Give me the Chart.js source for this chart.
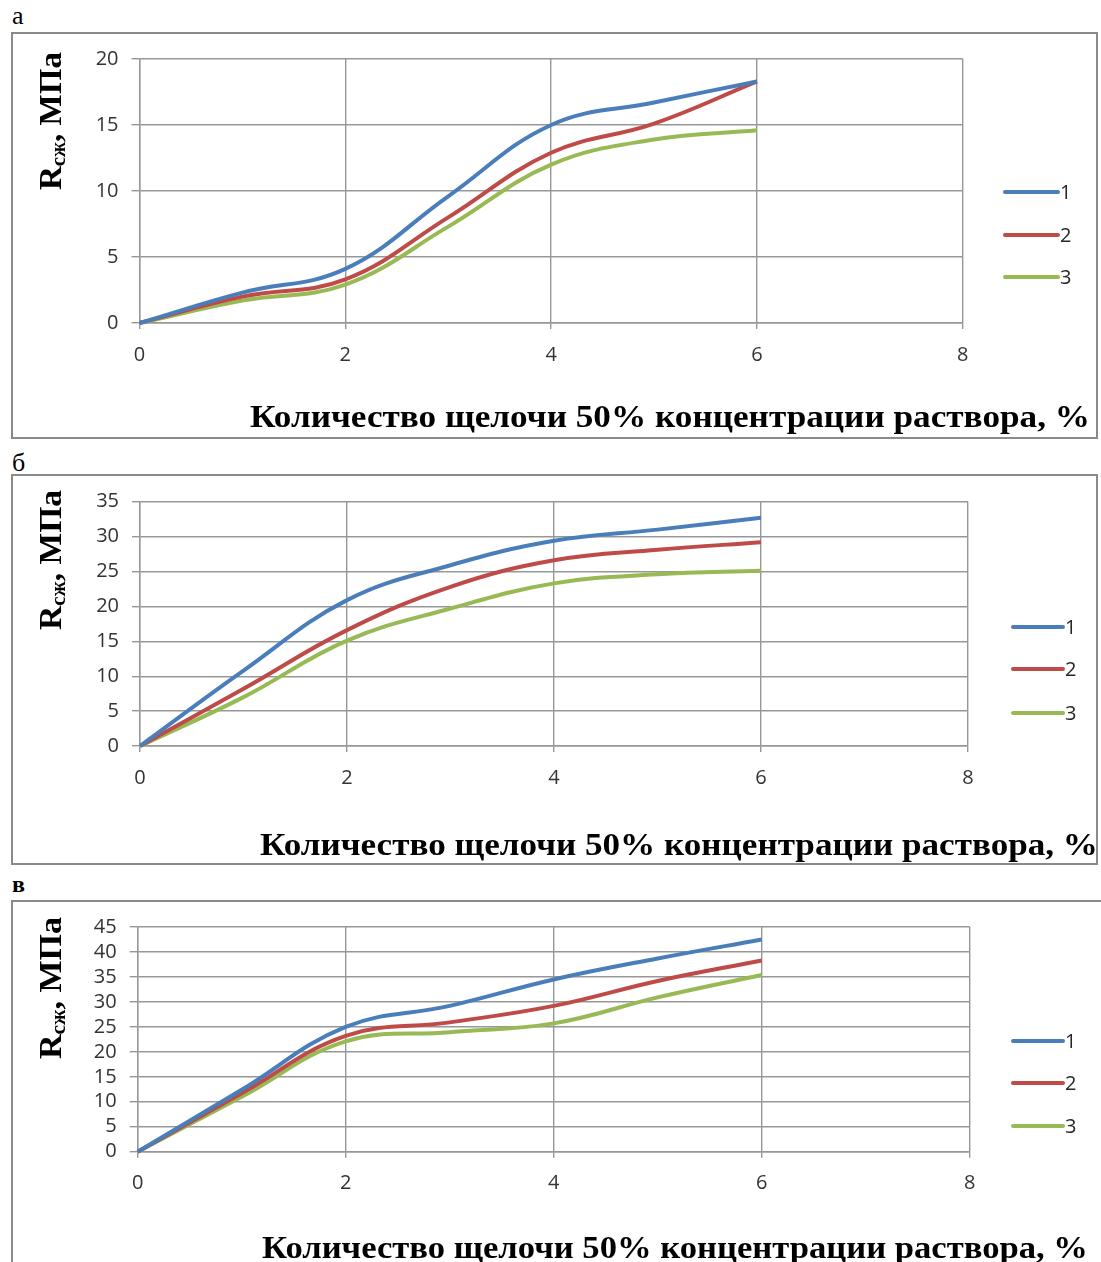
<!DOCTYPE html>
<html lang="ru">
<head>
  <meta charset="UTF-8">
  <title>Прочность при сжатии</title>
  <script src="https://cdn.jsdelivr.net/npm/chart.js"></script>
  <style>
    html, body { margin: 0; padding: 0; background: #fff; overflow: hidden; }
    body { width: 1101px; height: 1262px; position: relative; }
    .metka {
      position: absolute;
      left: 12px;
      font-family: "Liberation Serif", "Times New Roman", serif;
      font-size: 26px;
      line-height: 1;
      color: #000;
    }
    .panel {
      position: absolute;
      border: 2px solid #8a8a8a;
      box-sizing: border-box;
      background: #fff;
    }
    .panel canvas { position: absolute; left: 0; top: 0; }
  </style>
</head>
<body>
  <div class="metka" style="top:3px">а</div>
  <div class="metka" style="top:450px">б</div>
  <div class="metka" style="top:872px; font-size:24px; font-weight:bold">в</div>

  <div class="panel" id="panelA" style="left:11px; top:32px; width:1087px; height:407px">
    <canvas id="grafA" width="1083" height="403"></canvas>
  </div>
  <div class="panel" id="panelB" style="left:11px; top:474px; width:1087px; height:391px">
    <canvas id="grafB" width="1083" height="387"></canvas>
  </div>
  <div class="panel" id="panelV" style="left:11px; top:900px; width:1100px; height:390px">
    <canvas id="grafV" width="1096" height="386"></canvas>
  </div>

  <script>
    // количество щелочи, %
    const kolichestvo = [0, 1, 2, 3, 4, 5, 6];
    const serii = ['1', '2', '3'];
    const xTicks = [0, 2, 4, 6, 8];

    // а
    const rA1 = [0, 2.3, 4.1, 9.6, 15.0, 16.7, 18.3];
    const rA2 = [0, 2.0, 3.3, 8.0, 12.9, 15.1, 18.3];
    const rA3 = [0, 1.7, 2.9, 7.3, 12.0, 13.9, 14.6];
    const yTicksA = [0, 5, 10, 15, 20];

    // б
    const rB1 = [0, 10.8, 20.9, 25.9, 29.4, 31.0, 32.7];
    const rB2 = [0, 8.2, 16.6, 22.8, 26.6, 28.1, 29.2];
    const rB3 = [0, 7.0, 15.1, 19.7, 23.3, 24.6, 25.1];
    const yTicksB = [0, 5, 10, 15, 20, 25, 30, 35];

    // в
    const rV1 = [0, 12.4, 25.0, 29.2, 34.5, 38.7, 42.5];
    const rV2 = [0, 11.7, 23.2, 25.9, 29.2, 34.2, 38.3];
    const rV3 = [0, 11.0, 22.1, 23.9, 25.7, 30.9, 35.4];
    const yTicksV = [0, 5, 10, 15, 20, 25, 30, 35, 40, 45];

    const TITLE_X = 'Количество щелочи 50% концентрации раствора, %';
    const cveta = ['#4a7ebb', '#be4b48', '#98b954'];
    const setka = '#979797';

    // подписи осей и легенда рисуются поверх графика
    const podpisi = {
      id: 'podpisi',
      afterDraw(chart, args, o) {
        const ctx = chart.ctx;
        const ox = o.ox, oy = o.oy;

        // подпись оси X, по правому краю
        ctx.save();
        ctx.fillStyle = '#000';
        ctx.font = 'bold 31px "Liberation Serif"';
        ctx.textBaseline = 'alphabetic';
        const w = ctx.measureText(TITLE_X).width;
        ctx.translate(o.xt.left - ox, o.xt.base - oy);
        ctx.scale((o.xt.right - o.xt.left) / w, 1);
        ctx.fillText(TITLE_X, 0, 0);
        ctx.restore();

        // подпись оси Y: R с индексом "сж"
        ctx.save();
        ctx.fillStyle = '#000';
        ctx.textBaseline = 'alphabetic';
        const kuski = [
          { t: 'R', f: 'bold 32px "Liberation Serif"', dy: 0 },
          { t: 'сж', f: 'bold 20px "Liberation Serif"', dy: 4 },
          { t: ', МПа', f: 'bold 32px "Liberation Serif"', dy: 0 }
        ];
        let vsego = 0;
        kuski.forEach(k => { ctx.font = k.f; k.w = ctx.measureText(k.t).width; vsego += k.w; });
        ctx.translate(o.yt.base - ox, o.yt.bottom - oy);
        ctx.rotate(-Math.PI / 2);
        ctx.scale((o.yt.bottom - o.yt.top) / vsego, 1);
        let pos = 0;
        kuski.forEach(k => { ctx.font = k.f; ctx.fillText(k.t, pos, k.dy); pos += k.w; });
        ctx.restore();

        // легенда
        ctx.save();
        chart.data.datasets.forEach((ds, i) => {
          const y = o.lg.ys[i] - oy;
          ctx.strokeStyle = ds.borderColor;
          ctx.lineWidth = 4;
          ctx.lineCap = 'round';
          ctx.beginPath();
          ctx.moveTo(o.lg.x1 - ox, y);
          ctx.lineTo(o.lg.x2 - ox, y);
          ctx.stroke();
          ctx.fillStyle = '#262626';
          ctx.font = '20px "Open Sans"';
          ctx.textBaseline = 'middle';
          ctx.fillText(ds.label, o.lg.x2 - ox + 2, y + 1);
        });
        ctx.restore();
      }
    };

    function postroit(id, ryady, yTicks, raskladka) {
      const canvas = document.getElementById(id);
      const ox = raskladka.canvas[0], oy = raskladka.canvas[1];
      const [L, T, R, B] = raskladka.area;
      const yW = 60, xH = 40;

      const datasets = ryady.map((r, i) => ({
        label: serii[i],
        data: kolichestvo.map((x, j) => ({ x: x, y: r[j] })),
        borderColor: cveta[i],
        backgroundColor: cveta[i],
        borderWidth: 4,
        pointRadius: 0,
        tension: 0.4,
        fill: false,
        clip: false
      }));

      return new Chart(canvas, {
        type: 'line',
        data: { datasets: datasets },
        options: {
          responsive: false,
          animation: false,
          events: [],
          layout: {
            padding: {
              left: L - ox - yW,
              top: T - oy,
              right: canvas.width - (R - ox),
              bottom: canvas.height - (B - oy) - xH
            }
          },
          plugins: {
            legend: { display: false },
            tooltip: { enabled: false },
            podpisi: Object.assign({ ox: ox, oy: oy }, raskladka)
          },
          scales: {
            x: {
              type: 'linear',
              min: xTicks[0],
              max: xTicks[xTicks.length - 1],
              afterFit: s => { s.height = xH; },
              afterBuildTicks: s => { s.ticks = xTicks.map(v => ({ value: v })); },
              grid: { color: setka, lineWidth: 1.4, tickLength: 6, tickColor: setka },
              border: { color: setka, width: 1.4 },
              ticks: { font: { family: 'Open Sans', size: 20 }, color: '#333', padding: 14, maxRotation: 0, autoSkip: false }
            },
            y: {
              type: 'linear',
              min: yTicks[0],
              max: yTicks[yTicks.length - 1],
              afterFit: s => { s.width = yW; },
              afterBuildTicks: s => { s.ticks = yTicks.map(v => ({ value: v })); },
              grid: { color: setka, lineWidth: 1.4, tickLength: 8, tickColor: setka },
              border: { color: setka, width: 1.4 },
              ticks: { font: { family: 'Open Sans', size: 20 }, color: '#333', padding: 13, autoSkip: false }
            }
          }
        },
        plugins: [podpisi]
      });
    }

    postroit('grafA', [rA1, rA2, rA3], yTicksA, {
      canvas: [13, 34],
      area: [139.5, 58, 962.8, 323],
      xt: { left: 250, right: 1090, base: 427 },
      yt: { top: 52, bottom: 190, base: 61 },
      lg: { x1: 1005, x2: 1058, ys: [192, 235, 277] }
    });

    postroit('grafB', [rB1, rB2, rB3], yTicksB, {
      canvas: [13, 476],
      area: [140, 501.7, 968, 746],
      xt: { left: 260, right: 1098, base: 855 },
      yt: { top: 490, bottom: 630, base: 61 },
      lg: { x1: 1013, x2: 1063, ys: [627, 669, 713] }
    });

    postroit('grafV', [rV1, rV2, rV3], yTicksV, {
      canvas: [13, 902],
      area: [137.7, 925.7, 969.7, 1151.7],
      xt: { left: 262, right: 1088, base: 1258 },
      yt: { top: 917, bottom: 1059, base: 61 },
      lg: { x1: 1013, x2: 1063, ys: [1041, 1083, 1126] }
    });
  </script>
</body>
</html>
